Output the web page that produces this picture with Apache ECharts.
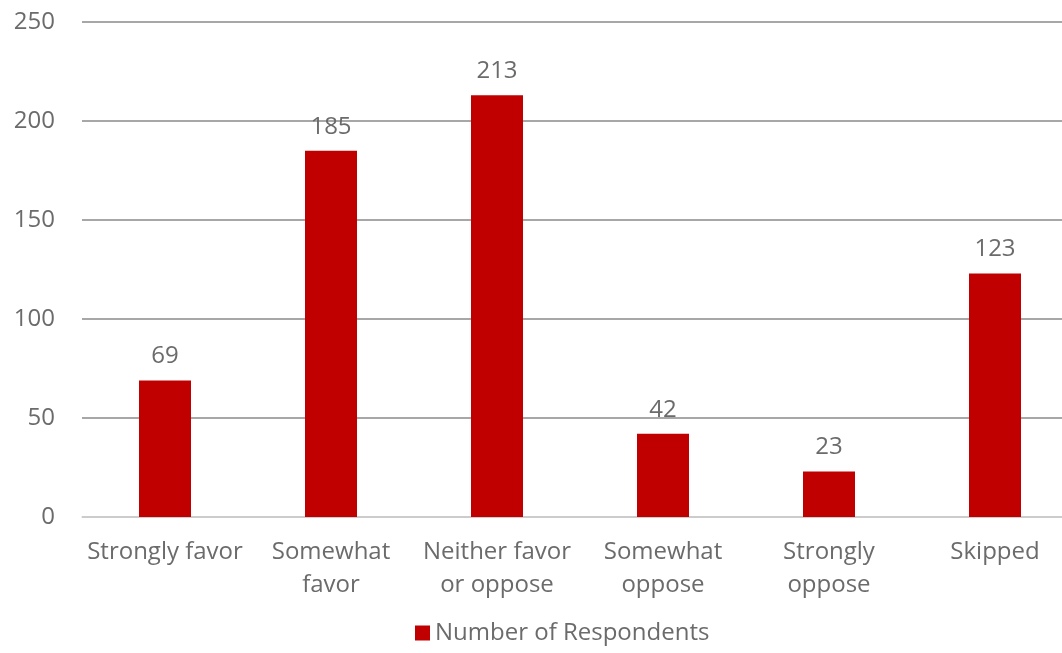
<!DOCTYPE html>
<html>
<head>
<meta charset="utf-8">
<script src="https://cdn.jsdelivr.net/npm/echarts@6/dist/echarts.min.js"></script>
<style>html,body{margin:0;padding:0;background:#fff;}#c{width:1062px;height:653px;}</style>
</head>
<body>
<div id="c"></div>
<script>
const categories = ["Strongly favor", "Somewhat\nfavor", "Neither favor\nor oppose", "Somewhat\noppose", "Strongly\noppose", "Skipped"];
const seriesName = "Number of Respondents";
const values = [69, 185, 213, 42, 23, 123];
const yTicks = { min: 0, max: 250, interval: 50 };

const font = "'Open Sans', sans-serif";
const textColor = "#6b6b6b";
const chart = echarts.init(document.getElementById('c'), null, { renderer: 'canvas' });
chart.setOption({
  animation: false,
  textStyle: { fontFamily: font },
  grid: { left: 82, right: -16, top: 22, bottom: 136, containLabel: false, outerBoundsMode: 'none' },
  legend: {
    left: 410, bottom: 3,
    itemWidth: 15, itemHeight: 15, itemGap: 8,
    icon: 'rect',
    textStyle: { fontSize: 24, color: textColor, fontFamily: font },
    data: [seriesName]
  },
  xAxis: {
    type: 'category',
    data: categories,
    axisLine: { show: true, lineStyle: { color: '#d9d9d9', width: 1.5 } },
    axisTick: { show: false },
    axisLabel: { fontSize: 24, color: textColor, margin: 19, lineHeight: 33, fontFamily: font, interval: 0 }
  },
  yAxis: {
    type: 'value',
    min: yTicks.min, max: yTicks.max, interval: yTicks.interval,
    axisLine: { show: false },
    axisTick: { show: false },
    axisLabel: { fontSize: 24, color: textColor, margin: 27, fontFamily: font },
    splitLine: { show: true, lineStyle: { color: '#8a8a8a', width: 1.5 } }
  },
  series: [{
    name: seriesName,
    type: 'bar',
    data: values,
    barWidth: 52,
    itemStyle: { color: '#c00000' },
    label: { show: true, position: 'top', distance: 12, fontSize: 24, color: textColor, fontFamily: font }
  }]
});
</script>
</body>
</html>
